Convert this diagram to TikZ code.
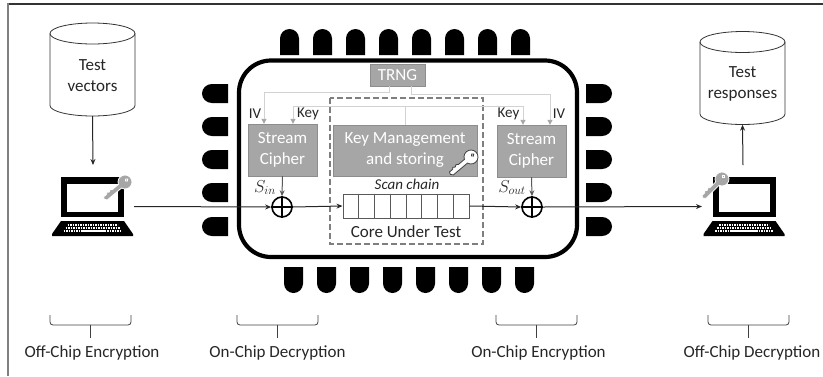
\documentclass[tikz,border=0pt]{standalone}
\usepackage{fontspec}
\setmainfont{Carlito}
\usetikzlibrary{arrows.meta, calc}

\definecolor{boxgray}{HTML}{A6A6A6}
\definecolor{busgray}{HTML}{D2D2D2}
\definecolor{dashgray}{HTML}{7F7F7F}

\tikzset{
  pics/laptop/.style={code={
    \fill[black] (-31.5,-20) rectangle (31.5,20);
    \fill[white] (-25.5,-13) rectangle (25.5,15);
    \fill[black] (-31.5,24) -- (31.5,24) -- (40.5,37) -- (40.5,39) -- (-40.5,39) -- (-40.5,37) -- cycle;
    \draw[white,line width=1.3pt,dash pattern=on 1.6pt off 0.9pt] (-25,28) -- (25,28);
    \draw[white,line width=1.3pt,dash pattern=on 1.6pt off 0.9pt] (-27,31) -- (27,31);
    \draw[white,line width=1.3pt,dash pattern=on 1.6pt off 0.9pt] (-29,34) -- (-12,34);
    \draw[white,line width=1.3pt,dash pattern=on 1.6pt off 0.9pt] (12,34) -- (29,34);
    \draw[white,line width=1.3pt] (-12,34) -- (12,34);
  }},
  pics/keyicon/.style={code={
    \path[pic actions] (160:7pt) arc [start angle=160,end angle=-160,radius=7pt]
      -- (-25pt,-2.4pt) -- (-27pt,0pt) -- (-26pt,2.4pt) -- (-22pt,2.4pt) -- (-20.5pt,3.8pt)
      -- (-18.5pt,2.4pt) -- (-16.5pt,3.8pt) -- (-14.5pt,2.4pt) -- cycle;
    \path[pic actions] (2.5pt,0.5pt) circle [radius=1.4pt];
  }},
  pics/drum/.style={code={
    \draw[draw=black!80,line width=0.8pt,fill=white] (-42.5pt,-36pt)
      arc [start angle=180,end angle=360,x radius=42.5pt,y radius=10.5pt]
      -- (42.5pt,36pt) arc [start angle=0,end angle=180,x radius=42.5pt,y radius=10.5pt] -- cycle;
    \draw[draw=black!80,line width=0.8pt] (-42.5pt,36pt)
      arc [start angle=180,end angle=360,x radius=42.5pt,y radius=10.5pt];
  }},
  boxnode/.style={draw=boxgray!85!black,fill=boxgray,text=white,inner sep=0pt,align=center,
    font=\fontsize{17}{21}\selectfont},
  textnode/.style={inner sep=0pt,align=center,text=black!85,font=\fontsize{17}{21}\selectfont},
  storage/.style={inner sep=0pt,minimum width=85pt,minimum height=93pt},
  xorgate/.style={shape=circle,draw=black,line width=1.6pt,fill=white,minimum size=20pt,inner sep=0pt},
  signal/.style={draw=black!85,line width=1pt,-{Stealth[length=6pt,width=5pt]}},
  feed/.style={draw=black!65,line width=1pt,-{Stealth[length=6pt,width=5pt]}},
  bus/.style={draw=busgray,line width=0.9pt},
  bustip/.style={bus,-{Triangle[length=5pt,width=5pt,fill=boxgray,color=boxgray]}},
  cbrace/.style={draw=black!75,line width=0.8pt,rounded corners=3pt}
}

\begin{document}
\begin{tikzpicture}[x=1pt,y=-1pt]
  \useasboundingbox (0,0) rectangle (823,376);

  % outer frame
  \draw[black!80,line width=1.3pt] (8,4) -- (823,4);
  \draw[black!50,line width=2pt] (8,3.4) -- (8,376);

  % chip pins
  \foreach \x in {280,313,346,379,412,445,478,511}
    \fill (\x,55) -- (\x,38.5) arc [start angle=180,end angle=0,radius=9.5pt] -- (\x+19,55) -- cycle;
  \foreach \x in {284,317,350,383,416,449,482,515}
    \fill (\x,267) -- (\x,283.5) arc [start angle=180,end angle=360,radius=9.5pt] -- (\x+19,267) -- cycle;
  \foreach \y in {84,117,150,183,217} {
    \fill (228,\y) -- (212,\y) arc [start angle=90,end angle=270,x radius=10pt,y radius=9.5pt] -- (228,\y+19) -- cycle;
    \fill (586,\y) -- (602,\y) arc [start angle=90,end angle=-90,x radius=10pt,y radius=9.5pt] -- (586,\y+19) -- cycle;
  }

  % chip body and core
  \draw[line width=4.2pt,rounded corners=32pt] (239,60.5) rectangle (577,257);
  \draw[dashgray,line width=1.8pt,dash pattern=on 6pt off 3pt] (330,98) rectangle (483,244);

  % boxes
  \node[boxnode,minimum width=55pt,minimum height=22pt] (trng) at (397.5,75) {TRNG};
  \node[boxnode,minimum width=69pt,minimum height=52pt] (cipherL) at (282.5,150) {Stream\\Cipher};
  \node[boxnode,minimum width=144pt,minimum height=51pt] (kms) at (405,150.5) {Key Management\\and storing};
  \node[boxnode,minimum width=69pt,minimum height=52pt] (cipherR) at (531.5,151) {Stream\\Cipher};
  \path (471,157) pic[rotate=40,fill=white,draw=black!75,line width=0.8pt] {keyicon};

  % scan chain
  \node[draw=black!65,line width=1pt,minimum width=126pt,minimum height=24pt,inner sep=0pt] (chain) at (406,206) {};
  \foreach \i in {1,...,7}
    \draw[black!65,line width=1pt] (343+\i*15.75,194) -- ++(0,24);
  \node[textnode,font=\fontsize{15}{15}\selectfont\itshape] (scan) at (407,184.5) {Scan chain};
  \node[textnode] (cut) at (406,231.5) {Core Under Test};

  % xor gates
  \node[xorgate] (xorL) at (282,207) {};
  \node[xorgate] (xorR) at (532,207) {};
  \draw[line width=1.4pt] (xorL.north) -- (xorL.south) (xorL.west) -- (xorL.east);
  \draw[line width=1.4pt] (xorR.north) -- (xorR.south) (xorR.west) -- (xorR.east);

  % random number and key lines
  \coordinate (keybus) at (405,106);
  \draw[bustip] ([xshift=-8.5pt]trng.south) -- ++(0,6) -| ([xshift=-18.5pt]cipherL.north);
  \draw[bustip] ([xshift=13.5pt]trng.south) -- ++(0,8) -| ([xshift=18.5pt]cipherR.north);
  \draw[bus] (kms.north) -- (keybus);
  \draw[bustip] (keybus) -| ([xshift=10.5pt]cipherL.north);
  \draw[bustip] (keybus) -| ([xshift=-8.5pt]cipherR.north);
  \node[textnode,font=\fontsize{15}{18}\selectfont] (ivL) at (255,114) {IV};
  \node[textnode,font=\fontsize{15}{18}\selectfont] (keyL) at (308,114) {Key};
  \node[textnode,font=\fontsize{15}{18}\selectfont] (keyR) at (508.5,114) {Key};
  \node[textnode,font=\fontsize{15}{18}\selectfont] (ivR) at (559,114) {IV};

  % storage and laptops
  \path (92.5,69.5) pic {drum};
  \path (742.5,78) pic {drum};
  \node[storage] (vectors) at (92.5,69.5) {};
  \node[storage] (responses) at (742.5,78) {};
  \node[textnode] (vectorsText) at (92.5,75.5) {Test\\vectors};
  \node[textnode] (responsesText) at (742.5,84) {Test\\responses};
  \path (92.5,197) pic {laptop};
  \path (744,197) pic {laptop};
  \path (125,182) pic[rotate=40,fill=boxgray,draw=white,line width=0.8pt] {keyicon};
  \path (722,179) pic[rotate=45,fill=boxgray,draw=white,line width=0.8pt] {keyicon};
  \coordinate (pcLtop) at (93,165);
  \coordinate (pcRtop) at (743,165);
  \coordinate (pcLout) at (134,206.5);
  \coordinate (pcRin) at (702,206.5);

  % data path
  \draw[signal] (vectors.south) -- (pcLtop);
  \draw[signal] (pcRtop) -- (responses.south);
  \draw[signal] (pcLout) -- (xorL.west);
  \draw[signal] (xorL.east) -- (chain.west);
  \draw[signal] (chain.east) -- (xorR.west);
  \draw[signal] (xorR.east) -- (pcRin);
  \draw[feed] (cipherL.south) -- (xorL.north);
  \draw[feed] (cipherR.south) -- (xorR.north);
  \node[textnode,font=\fontsize{17}{18}\selectfont] (sin) at (265,187.5) {$S_{in}$};
  \node[textnode,font=\fontsize{17}{18}\selectfont] (sout) at (512,187.5) {$S_{out}$};

  % braces below
  \foreach \x in {50,237,496,708} {
    \draw[cbrace] (\x,315) -- (\x,325) -- (\x+81,325) -- (\x+81,315);
    \draw[draw=black!75,line width=0.8pt] (\x+40.5,325) -- ++(0,13);
  }
  \node[textnode] (offenc) at (92,353) {Off-Chip Encryption};
  \node[textnode] (ondec) at (277.5,353) {On-Chip Decryption};
  \node[textnode] (onenc) at (538.5,353) {On-Chip Encryption};
  \node[textnode] (offdec) at (752,353) {Off-Chip Decryption};
\end{tikzpicture}
\end{document}
